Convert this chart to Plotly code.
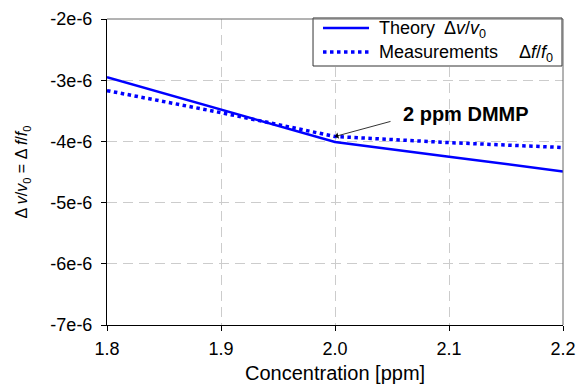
import plotly.graph_objects as go

conc = [1.8, 1.9, 2.0, 2.1, 2.2]
theory = [-2.95e-6, -3.48e-6, -4.01e-6, -4.25e-6, -4.49e-6]
meas_x = [1.8, 1.9, 2.0, 2.1, 2.2]
measurements = [-3.17e-6, -3.53e-6, -3.92e-6, -4.02e-6, -4.10e-6]

y_ticks = [-2e-6, -3e-6, -4e-6, -5e-6, -6e-6, -7e-6]
y_ticktext = ["-2e-6", "-3e-6", "-4e-6", "-5e-6", "-6e-6", "-7e-6"]
x_ticks = [1.8, 1.9, 2.0, 2.1, 2.2]
x_ticktext = ["1.8", "1.9", "2.0", "2.1", "2.2"]

x_title = "Concentration [ppm]"
legend_names = ["Theory", "Measurements"]
legend_math = ["Δ<i>v</i>/<i>v</i><sub>0</sub>", "Δ<i>f</i>/<i>f</i><sub>0</sub>"]
annot_label = "2 ppm DMMP"
annot_point = (2.0, -3.92e-6)
annot_tail = (2.05, -3.667e-6)
annot_text_pos = (2.115, -3.55e-6)

FONT = "Liberation Sans, Arial, sans-serif"
BLUE = "#0000ff"

fig = go.Figure()
fig.add_trace(go.Scatter(
    x=conc, y=theory, mode="lines", name=legend_names[0],
    line=dict(color=BLUE, width=2.5)))
fig.add_trace(go.Scatter(
    x=meas_x, y=measurements, mode="lines", name=legend_names[1],
    line=dict(color=BLUE, width=3.5, dash="dot")))

# annotation with arrow
fig.add_annotation(
    x=annot_point[0], y=annot_point[1], xref="x", yref="y",
    ax=annot_tail[0], ay=annot_tail[1], axref="x", ayref="y",
    text="", showarrow=True, arrowhead=1, arrowsize=1.4, arrowwidth=0.8,
    arrowcolor="black", standoff=0)
fig.add_annotation(
    x=annot_text_pos[0], y=annot_text_pos[1], xref="x", yref="y",
    text="<b>" + annot_label + "</b>", showarrow=False,
    xanchor="center", yanchor="middle",
    font=dict(family=FONT, size=20, color="black"))
fig.add_annotation(
    x=0.5, y=-0.157, xref="paper", yref="paper",
    text=x_title, showarrow=False, xanchor="center", yanchor="middle",
    font=dict(family=FONT, size=20, color="black"))

# legend box (drawn in paper coordinates)
fig.add_shape(type="rect", xref="paper", yref="paper",
              x0=0.4518, x1=0.9978, y0=0.8464, y1=1.0033,
              line=dict(color="#333333", width=1), fillcolor="white", layer="above")
row_y = [0.9706, 0.8922]
dashes = ["solid", "dot"]
widths = [2.5, 3.5]
math_x = [0.7346, 0.8991]
for i in range(2):
    fig.add_shape(type="line", xref="paper", yref="paper",
                  x0=0.4737, x1=0.5746, y0=row_y[i], y1=row_y[i],
                  line=dict(color=BLUE, width=widths[i], dash=dashes[i]), layer="above")
    fig.add_annotation(x=0.5921, y=row_y[i], xref="paper", yref="paper",
                       text=legend_names[i], showarrow=False,
                       xanchor="left", yanchor="middle",
                       font=dict(family=FONT, size=18, color="black"))
    fig.add_annotation(x=math_x[i], y=row_y[i] - 0.006, xref="paper", yref="paper",
                       text=legend_math[i], showarrow=False,
                       xanchor="left", yanchor="middle",
                       font=dict(family=FONT, size=18, color="black"))

grid = dict(showgrid=True, gridcolor="#cccccc", griddash="10px,6px", gridwidth=1)

fig.update_layout(
    width=577, height=385,
    margin=dict(l=107, r=14, t=19, b=60, autoexpand=False),
    paper_bgcolor="white", plot_bgcolor="white",
    font=dict(family=FONT, size=18, color="black"),
    showlegend=False,
    xaxis=dict(
        range=[1.8, 2.2], tickvals=x_ticks, ticktext=x_ticktext,
        showline=True, linecolor="black", linewidth=1, mirror=False,
        ticks="outside", ticklen=5, tickcolor="black",
        tickfont=dict(family=FONT, size=18), ticklabelstandoff=2,
        automargin=False,
        zeroline=False, **grid,
    ),
    yaxis=dict(
        range=[-7e-6, -2e-6], tickvals=y_ticks, ticktext=y_ticktext,
        showline=True, linecolor="black", linewidth=1, mirror=False,
        ticks="outside", ticklen=5, tickcolor="black",
        tickfont=dict(family=FONT, size=18), ticklabelstandoff=5,
        automargin=False,
        title=dict(text="Δ <i>v</i>/<i>v</i><sub>0</sub> = Δ <i>f</i>/<i>f</i><sub>0</sub>",
                   standoff=18, font=dict(family=FONT, size=16)),
        zeroline=False, **grid,
    ),
)
fig.add_shape(type="line", xref="paper", yref="paper", x0=0, x1=1, y0=1, y1=1,
              line=dict(color="#666666", width=1))
fig.add_shape(type="line", xref="paper", yref="paper", x0=1, x1=1, y0=0, y1=1,
              line=dict(color="#666666", width=1))

fig.write_html("out.html")
